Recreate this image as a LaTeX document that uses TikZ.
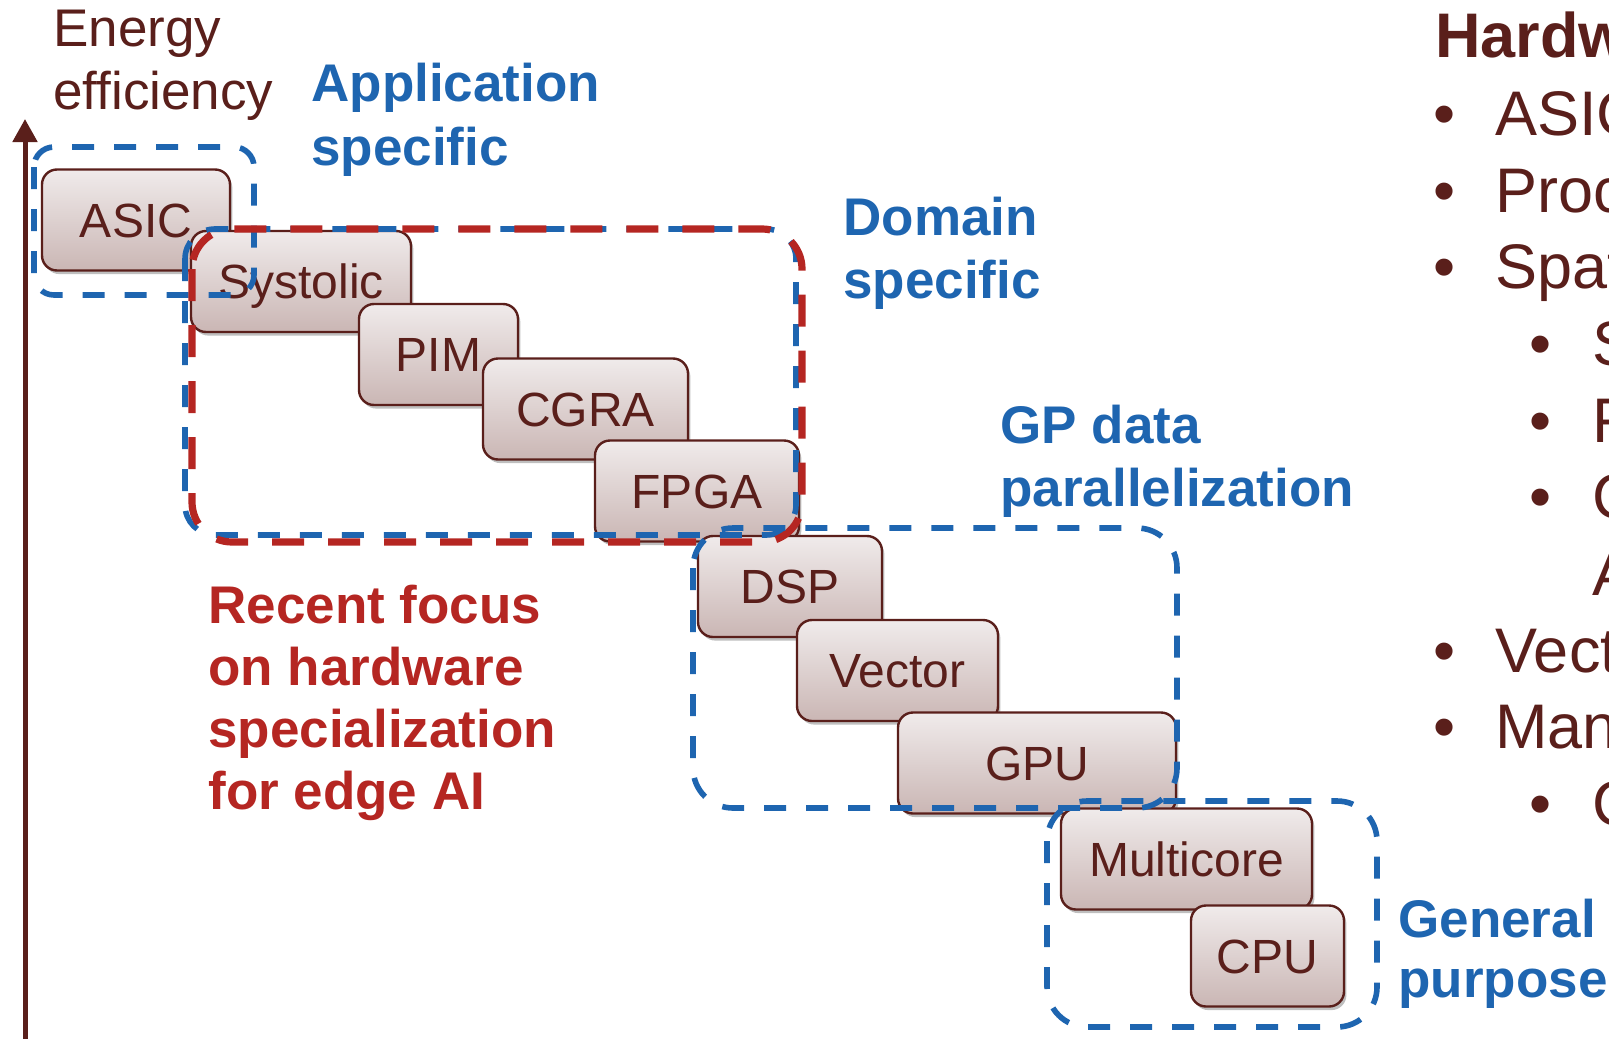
\documentclass[tikz,border=0pt]{standalone}
\usepackage{fontspec}
\setmainfont{Liberation Sans}
\usetikzlibrary{arrows.meta,shadows}

\definecolor{inkbrown}{RGB}{90,31,27}
\definecolor{inkblue}{RGB}{30,101,176}
\definecolor{inkred}{RGB}{181,38,34}
\definecolor{boxtop}{RGB}{240,235,235}
\definecolor{boxbot}{RGB}{202,182,180}

\begin{document}
\begin{tikzpicture}[x=0.5pt,y=-0.5pt,
  hwbox/.style={draw=inkbrown, line width=1.2pt, rounded corners=7.5pt,
    top color=boxtop, bottom color=boxbot, minimum height=50.5pt,
    inner sep=0pt, text=inkbrown, font=\fontsize{24}{28}\selectfont,
    text height=17.2pt, text depth=0pt,
    drop shadow={shadow xshift=1.2pt, shadow yshift=-1.8pt, opacity=0.25, fill=black}},
  bluefr/.style={draw=inkblue, line width=2.8pt, dash pattern=on 11pt off 10pt},
  redfr/.style={draw=inkred, line width=3.6pt, dash pattern=on 16pt off 12pt},
  axislbl/.style={anchor=base west, inner sep=0pt, text=inkbrown, font=\fontsize{26.5}{31}\selectfont},
  bluelbl/.style={anchor=base west, inner sep=0pt, text=inkblue, font=\fontsize{26.5}{31}\bfseries},
  redlbl/.style={anchor=base west, inner sep=0pt, text=inkred, font=\fontsize{26.5}{31}\bfseries},
  listtitle/.style={anchor=base west, inner sep=0pt, text=inkbrown, font=\fontsize{31.5}{36}\bfseries},
  listitem/.style={anchor=base west, inner sep=0pt, text=inkbrown, font=\fontsize{31.5}{36}\selectfont},
]
\clip (0,0) rectangle (1609,1038);

% vertical axis: energy efficiency
\coordinate (axis-bottom) at (25,1040);
\coordinate (axis-top) at (25,119);
\draw[inkbrown, line width=2.5pt, -{Triangle[length=11.5pt,width=12pt]}] (axis-bottom) -- (axis-top);
\node[axislbl] (energy-1) at (53,47) {Energy};
\node[axislbl] (energy-2) at (53,110) {efficiency};

% hardware platforms, from most specialised to most general
\node[hwbox, minimum width=94pt]    (asic)      at (136,220)    {ASIC};
\node[hwbox, minimum width=110pt]   (systolic)  at (301,281.5)  {Systolic};
\node[hwbox, minimum width=79.5pt]  (pim)       at (438.5,354.5){PIM};
\node[hwbox, minimum width=102.5pt] (cgra)      at (585.5,409)  {CGRA};
\node[hwbox, minimum width=102pt]   (fpga)      at (697,491)    {FPGA};
\node[hwbox, minimum width=92pt]    (dsp)       at (790,586.5)  {DSP};
\node[hwbox, minimum width=100.5pt] (vector)    at (897.5,670.5){Vector};
\node[hwbox, minimum width=139pt]   (gpu)       at (1037,763)   {GPU};
\node[hwbox, minimum width=125.5pt] (multicore) at (1186.5,859) {Multicore};
\node[hwbox, minimum width=76.5pt]  (cpu)       at (1267.5,956) {CPU};

% category frames
\draw[bluefr, rounded corners=10pt] (34,147) rectangle (254,295);
\draw[bluefr, rounded corners=15pt] (185,229) rectangle (796,535);
\draw[redfr, rounded corners=20pt] (192,229) rectangle (802,542);
\draw[bluefr, rounded corners=20pt] (693,528) rectangle (1177,808);
\draw[bluefr, rounded corners=20pt] (1047,801) rectangle (1377,1027);

% category labels
\node[bluelbl] (app-1) at (311,102) {Application};
\node[bluelbl] (app-2) at (311,165) {specific};
\node[bluelbl] (dom-1) at (843,235) {Domain};
\node[bluelbl] (dom-2) at (843,298) {specific};
\node[bluelbl] (gp-1) at (1000,443) {GP data};
\node[bluelbl] (gp-2) at (1000,506) {parallelization};
\node[bluelbl] (gen-1) at (1398,937) {General};
\node[bluelbl] (gen-2) at (1398,997) {purpose};

\node[redlbl] (focus-1) at (208,623) {Recent focus};
\node[redlbl] (focus-2) at (208,685) {on hardware};
\node[redlbl] (focus-3) at (208,747) {specialization};
\node[redlbl] (focus-4) at (208,809) {for edge AI};

% hardware list
\node[listtitle] (hw-title) at (1435,58) {Hardware};
\node[listitem] (b-asic) at (1433,135) {\textbullet};
\node[listitem] (t-asic) at (1495,135) {ASICs};
\node[listitem] (b-proc) at (1433,212) {\textbullet};
\node[listitem] (t-proc) at (1495,212) {Processing};
\node[listitem] (b-spat) at (1433,288) {\textbullet};
\node[listitem] (t-spat) at (1495,288) {Spatial};
\node[listitem] (b-sys) at (1529,365) {\textbullet};
\node[listitem] (t-sys) at (1592,365) {Systolic};
\node[listitem] (b-fpga) at (1529,442) {\textbullet};
\node[listitem] (t-fpga) at (1592,442) {FPGA};
\node[listitem] (b-cgra) at (1529,518) {\textbullet};
\node[listitem] (t-cgra) at (1592,518) {CGRA};
\node[listitem] (t-arr) at (1592,595) {Arrays};
\node[listitem] (b-vect) at (1433,672) {\textbullet};
\node[listitem] (t-vect) at (1495,672) {Vector};
\node[listitem] (b-many) at (1433,748) {\textbullet};
\node[listitem] (t-many) at (1495,748) {Manycore};
\node[listitem] (b-cpu) at (1529,825) {\textbullet};
\node[listitem] (t-cpu) at (1592,825) {CPU};
\end{tikzpicture}
\end{document}
